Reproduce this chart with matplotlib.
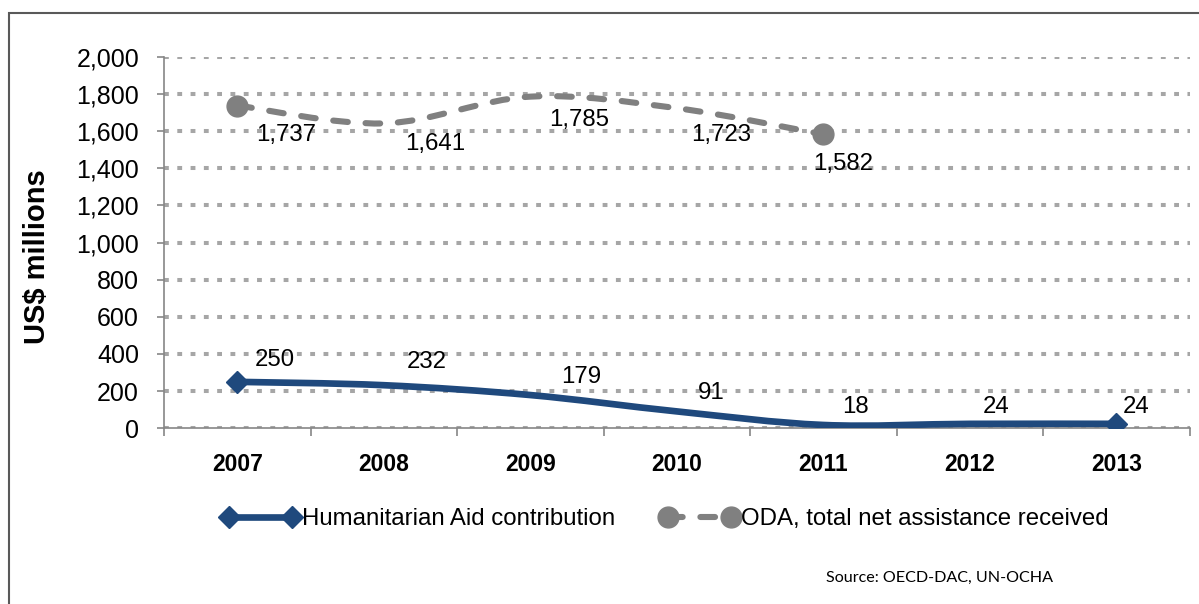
import matplotlib
matplotlib.use("Agg")
import matplotlib.pyplot as plt
import numpy as np
from matplotlib.path import Path
from matplotlib.patches import PathPatch, Rectangle
from matplotlib.lines import Line2D
import matplotlib.ticker as tick

plt.rcParams['font.family'] = ['Liberation Sans', 'DejaVu Sans']

years = ['2007', '2008', '2009', '2010', '2011', '2012', '2013']
humanitarian = [250, 232, 179, 91, 18, 24, 24]
oda = [1737, 1641, 1785, 1723, 1582]

NAVY = '#1F497D'
GREY = '#808080'

# label offsets in points (dx, dy) relative to each point
hum_offsets = [(27, 16), (31, 17), (37, 13), (25, 13), (23, 13), (19, 12), (14, 12)]
oda_offsets = [(35, -21), (37, -15), (35, -17), (32, -19), (14, -21)]


def smooth_path(xs, ys):
    """Excel-style smoothed line: cubic Bezier through every point."""
    pts = np.column_stack([xs, ys]).astype(float)
    n = len(pts)
    verts = [pts[0]]
    codes = [Path.MOVETO]
    for i in range(n - 1):
        p0 = pts[i - 1] if i > 0 else pts[i]
        p1 = pts[i]
        p2 = pts[i + 1]
        p3 = pts[i + 2] if i + 2 < n else pts[i + 1]
        verts += [p1 + (p2 - p0) / 6, p2 - (p3 - p1) / 6, p2]
        codes += [Path.CURVE4] * 3
    return Path(verts, codes)


fig = plt.figure(figsize=(11.99, 6.04), dpi=100)
ax = fig.add_axes([164 / 1199, (604 - 428.3) / 604, (1189.5 - 164) / 1199, (428.3 - 56.7) / 604])

x_hum = np.arange(len(humanitarian))
x_oda = np.arange(len(oda))

ax.add_patch(PathPatch(smooth_path(x_hum, humanitarian), fill=False, ec=NAVY, lw=4.8,
                       capstyle='round', joinstyle='round', zorder=3))
ax.plot(x_hum[[0, -1]], np.array(humanitarian)[[0, -1]], ls='none', marker='D', ms=11.5,
        color=NAVY, zorder=4)

ax.add_patch(PathPatch(smooth_path(x_oda, oda), fill=False, ec=GREY, lw=4.4,
                       linestyle=(0, (2.4, 2.9)), capstyle='round', zorder=3))
ax.plot(x_oda[[0, -1]], np.array(oda)[[0, -1]], ls='none', marker='o', ms=15,
        color=GREY, zorder=4)

for x, v, (dx, dy) in zip(x_hum, humanitarian, hum_offsets):
    ax.annotate(f"{v:,}", (x, v), xytext=(dx, dy), textcoords='offset points',
                ha='center', va='center', fontsize=17.3, zorder=5)
for x, v, (dx, dy) in zip(x_oda, oda, oda_offsets):
    ax.annotate(f"{v:,}", (x, v), xytext=(dx, dy), textcoords='offset points',
                ha='center', va='center', fontsize=17.3, zorder=5)

ax.set_xlim(-0.5, len(years) - 0.5)
ax.set_ylim(0, 2000)
ax.set_yticks(np.arange(0, 2001, 200))
ax.yaxis.set_major_formatter(tick.StrMethodFormatter('{x:,.0f}'))
ax.set_xticks(x_hum)
ax.set_xticklabels(years, fontsize=16.5, fontweight='bold')
ax.set_xticks(np.arange(-0.5, len(years)), minor=True)

ax.tick_params(axis='y', labelsize=18, length=5, width=1.2, color='#868686', pad=13)
ax.tick_params(axis='x', which='major', length=0, pad=18)
ax.tick_params(axis='x', which='minor', length=6, width=1.2, color='#868686')

for side in ['top', 'right']:
    ax.spines[side].set_visible(False)
for side in ['left', 'bottom']:
    ax.spines[side].set_color('#868686')
    ax.spines[side].set_linewidth(1.2)

ax.yaxis.grid(True, color='#A6A6A6', lw=2.9, linestyle=(0, (1.2, 2.1)))
ax.set_axisbelow(True)

fig.text(37 / 1199, 1 - 257 / 604, 'US$ millions', rotation=90, fontsize=21,
         fontweight='bold', ha='center', va='center')

handles = [
    Line2D([], [], color=NAVY, lw=4.8, marker='D', ms=11.5),
    Line2D([], [], color=GREY, lw=4.4, marker='o', ms=15, linestyle=(0, (2.4, 2.9)),
           dash_capstyle='round'),
]
fig.legend(handles, ['Humanitarian Aid contribution', 'ODA, total net assistance received'],
           loc='center', bbox_to_anchor=(0.555, 1 - 519 / 604), ncol=2, frameon=False,
           fontsize=17.3, numpoints=2, handlelength=3.2, handletextpad=0.13,
           columnspacing=1.9)

fig.text(1053 / 1199, 1 - 578 / 604, 'Source: OECD-DAC, UN-OCHA', fontsize=11.6,
         family=['Lato', 'DejaVu Sans'], ha='right', va='center')

fig.patches.append(Rectangle((9 / 1199, -0.05), 1.1, 1 - 13 / 604 + 0.05,
                             transform=fig.transFigure, fill=False,
                             ec='#595959', lw=1.5))

fig.savefig('out.png', dpi=100)
